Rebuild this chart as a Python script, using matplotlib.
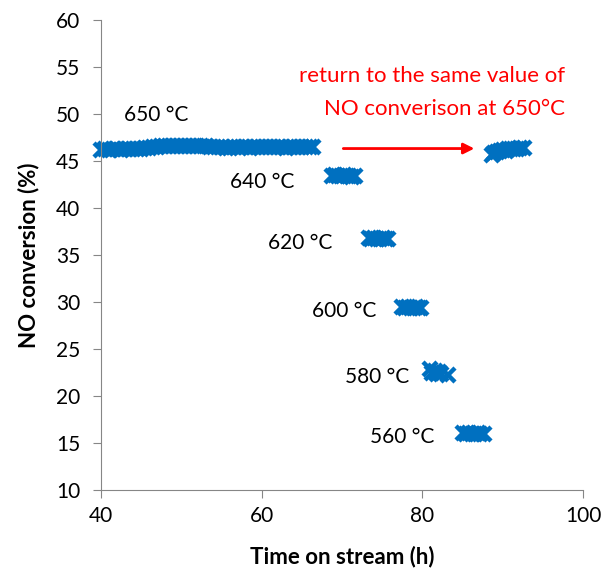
import matplotlib
matplotlib.use("Agg")
import matplotlib.pyplot as plt

plt.rcParams['font.family'] = ['Lato', 'DejaVu Sans']

# --- data ---
t_650a = [40.0, 40.5, 41.0, 41.5, 42.0, 42.5, 43.0, 43.5, 44.0, 44.5,
          45.0, 45.5, 46.0, 46.5, 47.0, 47.5, 48.0, 48.5, 49.0, 49.5,
          50.0, 50.5, 51.0, 51.5, 52.0, 52.5, 53.0, 53.5, 54.0, 54.5,
          55.1, 55.5, 56.0, 56.5, 57.0, 57.5, 58.0, 58.5, 59.0, 59.5,
          60.0, 60.5, 61.0, 61.5, 62.0, 62.5, 63.0, 63.5, 64.0, 64.5,
          65.0, 65.5, 66.0, 66.4]
y_650a = [46.1, 46.2, 46.1, 46.2, 46.2, 46.1, 46.2, 46.2, 46.2, 46.3,
          46.3, 46.4, 46.4, 46.5, 46.5, 46.6, 46.6, 46.6, 46.6, 46.6,
          46.6, 46.6, 46.6, 46.6, 46.6, 46.6, 46.6, 46.5, 46.5, 46.5,
          46.5, 46.4, 46.4, 46.5, 46.5, 46.5, 46.5, 46.4, 46.5, 46.5,
          46.5, 46.5, 46.5, 46.5, 46.5, 46.5, 46.4, 46.5, 46.5, 46.5,
          46.5, 46.5, 46.5, 46.5]
t_640 = [68.8, 69.15, 69.5, 69.85, 70.2, 70.55, 70.9, 71.25, 71.6]
y_640 = [43.4, 43.5, 43.4, 43.4, 43.5, 43.4, 43.4, 43.3, 43.4]
t_620 = [73.3, 73.65, 74.0, 74.35, 74.7, 75.05, 75.4, 75.7]
y_620 = [36.8, 36.7, 36.8, 36.7, 36.7, 36.8, 36.7, 36.7]
t_600 = [77.5, 77.85, 78.2, 78.55, 78.9, 79.25, 79.55, 79.8]
y_600 = [29.4, 29.3, 29.4, 29.3, 29.3, 29.4, 29.3, 29.3]
t_580 = [80.9, 81.2, 81.5, 81.8, 82.1, 82.3, 83.2]
y_580 = [22.8, 22.4, 22.6, 22.3, 22.5, 22.3, 22.2]
t_560 = [85.1, 85.45, 85.8, 86.15, 86.5, 86.85, 87.2, 87.6]
y_560 = [16.0, 15.9, 16.0, 15.9, 15.9, 16.0, 15.9, 15.9]
t_650b = [88.6, 88.95, 89.3, 89.65, 90.0, 90.35, 90.7, 91.05, 91.4, 91.75, 92.1, 92.6]
y_650b = [45.6, 45.8, 45.9, 46.0, 46.1, 46.0, 46.2, 46.2, 46.3, 46.3, 46.4, 46.4]

segments = [(t_650a, y_650a), (t_640, y_640), (t_620, y_620), (t_600, y_600),
            (t_580, y_580), (t_560, y_560), (t_650b, y_650b)]

labels = ["650 °C", "640 °C", "620 °C", "600 °C", "580 °C", "560 °C"]
label_x = [46.9, 60.0, 64.8, 70.2, 74.3, 77.5]
label_y = [49.9, 42.7, 36.2, 29.0, 22.0, 15.6]

x_ticks = [40, 60, 80, 100]
y_ticks = [10, 15, 20, 25, 30, 35, 40, 45, 50, 55, 60]

blue = "#0070C0"
gray = "#868686"

fig = plt.figure(figsize=(6.05, 5.81), dpi=100)
ax = fig.add_axes([0.167, 0.157, 0.797, 0.809])

for t, y in segments:
    ax.plot(t, y, linestyle='none', marker='x', markersize=10.5, markeredgewidth=3.2,
            color=blue, clip_on=False)

for lab, lx, ly in zip(labels, label_x, label_y):
    ax.text(lx, ly, lab, fontsize=15, ha='center', va='center', color='black')

ax.text(97.7, 54.0, "return to the same value of", color='red', fontsize=16,
        ha='right', va='center')
ax.text(97.7, 50.5, "NO converison at 650°C", color='red', fontsize=16,
        ha='right', va='center')
ax.annotate("", xy=(86.8, 46.3), xytext=(69.8, 46.3),
            arrowprops=dict(arrowstyle='-|>', color='red', lw=2, mutation_scale=16))

ax.set_xlim(40, 100)
ax.set_ylim(10, 60)
ax.set_xticks(x_ticks)
ax.set_yticks(y_ticks)
ax.tick_params(axis='both', direction='out', length=6, color=gray, labelsize=15)
ax.tick_params(axis='y', pad=9)
ax.tick_params(axis='x', pad=6)
for s in ['top', 'right']:
    ax.spines[s].set_visible(False)
for s in ['left', 'bottom']:
    ax.spines[s].set_color(gray)

ax.set_xlabel("Time on stream (h)", fontsize=16, fontweight='bold', labelpad=14)
ax.set_ylabel("NO conversion (%)", fontsize=16, fontweight='bold', labelpad=12)

fig.savefig("out.png", dpi=100)
